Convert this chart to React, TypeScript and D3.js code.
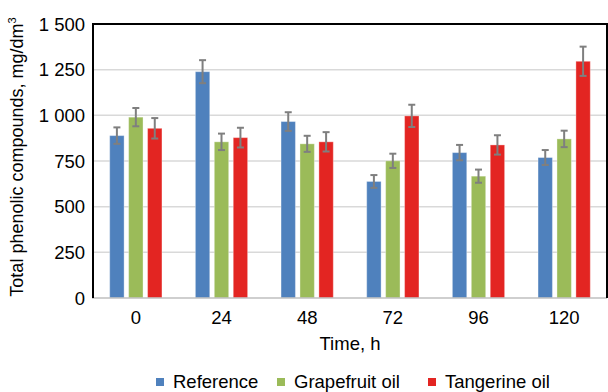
import React from 'react';
import * as d3 from 'd3';

const width = 608;
const height = 392;

const times = ['0', '24', '48', '72', '96', '120'];
const seriesNames = ['Reference', 'Grapefruit oil', 'Tangerine oil'];
const seriesColors = ['#4F81BD', '#9BBB59', '#E32522'];

const reference = [889, 1239, 966, 638, 796, 769];
const grapefruit = [990, 855, 844, 751, 667, 871];
const tangerine = [929, 878, 855, 997, 838, 1296];

const referenceErr = [45, 63, 51, 35, 42, 41];
const grapefruitErr = [50, 45, 44, 39, 36, 45];
const tangerineErr = [56, 54, 53, 61, 53, 80];

const yTicks = [0, 250, 500, 750, 1000, 1250, 1500];

const margin = { top: 24, right: 1, bottom: 94, left: 93 };
const font = 'Liberation Sans, Arial, sans-serif';

const fmt = (v: number) => (v >= 1000 ? `${Math.floor(v / 1000)} ${String(v % 1000).padStart(3, '0')}` : String(v));

export default function App() {
  const plotW = width - margin.left - margin.right;
  const plotH = height - margin.top - margin.bottom;

  const x = d3.scaleBand().domain(times).range([0, plotW]).paddingInner(0.39).paddingOuter(0.195);
  const xInner = d3.scaleBand().domain(seriesNames).range([0, x.bandwidth()]).paddingInner(0.24);
  const y = d3.scaleLinear().domain([0, 1500]).range([plotH, 0]);

  const values = [reference, grapefruit, tangerine];
  const errors = [referenceErr, grapefruitErr, tangerineErr];

  const legendX = [156, 277, 428];

  return (
    <svg width={width} height={height} style={{ position: 'absolute', left: 0, top: 0, background: '#fff' }} fontFamily={font}>
      <g transform={`translate(${margin.left},${margin.top})`}>
        {yTicks.filter(t => t > 0 && t < 1500).map(t => (
          <line key={t} x1={0} x2={plotW} y1={y(t)} y2={y(t)} stroke="#D9D9D9" strokeWidth={1.5} />
        ))}
        {seriesNames.map((name, si) => (
          <g key={name}>
            {times.map((t, i) => {
              const bx = (x(t) ?? 0) + (xInner(name) ?? 0);
              const v = values[si][i];
              return (
                <rect key={t} x={bx} y={y(v)} width={xInner.bandwidth()} height={plotH - y(v)}
                  fill={seriesColors[si]} stroke="#fff" strokeOpacity={0.35} strokeWidth={1} />
              );
            })}
          </g>
        ))}
        {seriesNames.map((name, si) => (
          <g key={name + '-err'} stroke="#7F7F7F" strokeWidth={2}>
            {times.map((t, i) => {
              const cx = (x(t) ?? 0) + (xInner(name) ?? 0) + xInner.bandwidth() / 2;
              const v = values[si][i];
              const e = errors[si][i];
              return (
                <g key={t}>
                  <line x1={cx} x2={cx} y1={y(v + e)} y2={y(v - e)} />
                  <line x1={cx - 3.5} x2={cx + 3.5} y1={y(v + e)} y2={y(v + e)} />
                  <line x1={cx - 3.5} x2={cx + 3.5} y1={y(v - e)} y2={y(v - e)} />
                </g>
              );
            })}
          </g>
        ))}
        <line x1={-1} x2={plotW} y1={plotH} y2={plotH} stroke="#BFBFBF" strokeWidth={1.5} />
        <path d={`M0,${plotH}V0H${plotW}V${plotH}`} fill="none" stroke="#000" strokeWidth={2} />
        {yTicks.map(t => (
          <text key={t} x={-8} y={y(t)} dy="0.36em" textAnchor="end" fontSize={18.5} fill="#000">{fmt(t)}</text>
        ))}
        {times.map(t => (
          <text key={t} x={(x(t) ?? 0) + x.bandwidth() / 2} y={plotH + 26} textAnchor="middle" fontSize={18.5} fill="#000">{t}</text>
        ))}
        <text x={plotW / 2} y={plotH + 52} textAnchor="middle" fontSize={18.5} fill="#000">Time, h</text>
      </g>
      <text transform={`translate(23,157) rotate(-90)`} textAnchor="middle" fontSize={18} fill="#000">
        Total phenolic compounds, mg/dm<tspan fontSize={11} dy={-7}>3</tspan>
      </text>
      {seriesNames.map((name, si) => (
        <g key={name} transform={`translate(${legendX[si]},0)`}>
          <rect x={0} y={378} width={8} height={8} fill={seriesColors[si]} />
          <text x={17} y={388} fontSize={18.5} fill="#000">{name}</text>
        </g>
      ))}
    </svg>
  );
}
